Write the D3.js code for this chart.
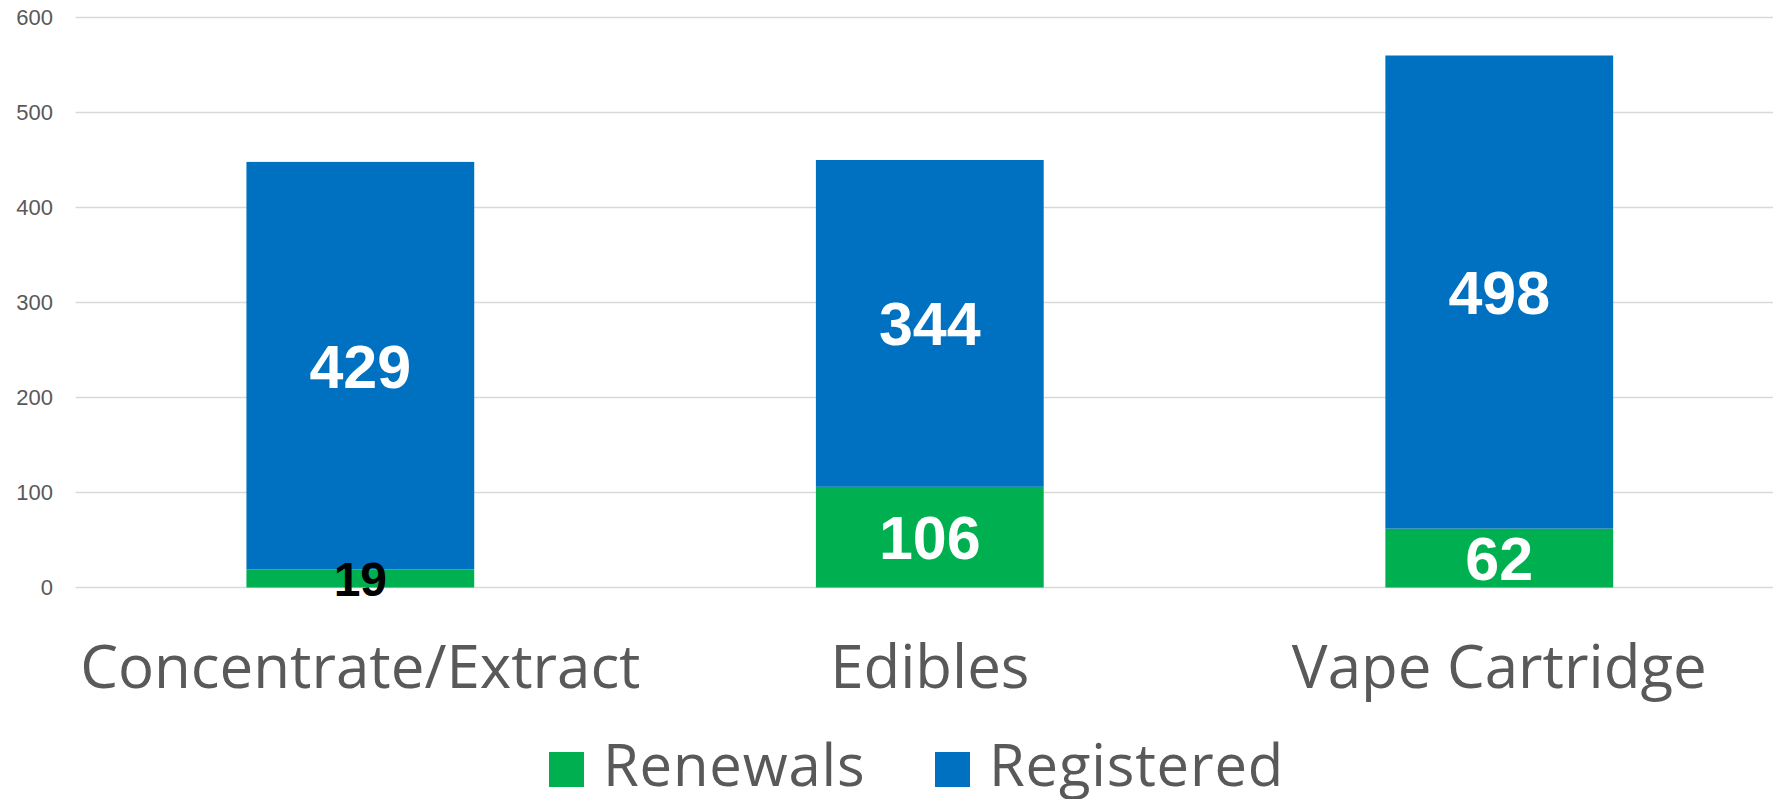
<!DOCTYPE html>
<html>
<head>
<meta charset="utf-8">
<script src="https://cdn.jsdelivr.net/npm/d3@7"></script>
<style>
  html, body { margin: 0; padding: 0; background: #fff; }
  svg { display: block; }
</style>
</head>
<body>
<div id="chart"></div>
<script>
// data
const categories = ["Concentrate/Extract", "Edibles", "Vape Cartridge"];
const seriesNames = ["Renewals", "Registered"];
const renewals = [19, 106, 62];
const registered = [429, 344, 498];
const yTicks = [0, 100, 200, 300, 400, 500, 600];

const seriesColors = { Renewals: "#00B050", Registered: "#0070C0" };

const width = 1773;
const height = 799;
const plot = { left: 75.6, right: 1784, top: 17.5, bottom: 587.5 };

const rows = categories.map((c, i) => ({
  category: c,
  Renewals: renewals[i],
  Registered: registered[i]
}));

const svg = d3.select("#chart").append("svg")
  .attr("width", width)
  .attr("height", height);

const x = d3.scaleBand()
  .domain(categories)
  .range([plot.left, plot.right])
  .paddingInner(0.6)
  .paddingOuter(0.3);

const y = d3.scaleLinear()
  .domain([0, 600])
  .range([plot.bottom, plot.top]);

// gridlines
svg.append("g")
  .selectAll("line")
  .data(yTicks)
  .join("line")
  .attr("x1", plot.left)
  .attr("x2", width)
  .attr("y1", d => y(d))
  .attr("y2", d => y(d))
  .attr("stroke", "#d9d9d9")
  .attr("stroke-width", 1.5);

// y axis labels
const yAxis = d3.axisLeft(y).tickValues(yTicks).tickSize(0).tickPadding(0);
svg.append("g")
  .attr("transform", "translate(53,0)")
  .call(yAxis)
  .call(g => g.select(".domain").remove())
  .call(g => g.selectAll("text")
    .attr("fill", "#595959")
    .attr("font-family", "'Liberation Sans', Arial, sans-serif")
    .attr("font-size", 22));

// stacked bars
const stacked = d3.stack().keys(seriesNames)(rows);

const layers = svg.append("g")
  .selectAll("g")
  .data(stacked)
  .join("g")
  .attr("fill", s => seriesColors[s.key]);

layers.selectAll("rect")
  .data(s => s.map(p => ({ key: s.key, p })))
  .join("rect")
  .attr("x", d => x(d.p.data.category))
  .attr("width", x.bandwidth())
  .attr("y", d => y(d.p[1]))
  .attr("height", d => y(d.p[0]) - y(d.p[1]));

// data labels
const labelG = svg.append("g");
stacked.forEach(s => {
  s.forEach(p => {
    const value = p[1] - p[0];
    const segH = y(p[0]) - y(p[1]);
    const small = segH < 40;
    labelG.append("text")
      .attr("x", x(p.data.category) + x.bandwidth() / 2)
      .attr("y", (y(p[0]) + y(p[1])) / 2)
      .attr("dy", "0.36em")
      .attr("text-anchor", "middle")
      .attr("font-family", "'Liberation Sans', Arial, sans-serif")
      .attr("font-weight", "bold")
      .attr("font-size", small ? 48 : 61)
      .attr("fill", small ? "#000" : "#fff")
      .text(value);
  });
});

// category labels
svg.append("g")
  .selectAll("text")
  .data(categories)
  .join("text")
  .attr("x", d => x(d) + x.bandwidth() / 2)
  .attr("y", 688)
  .attr("text-anchor", "middle")
  .attr("font-family", "'Open Sans', sans-serif")
  .attr("font-size", 60)
  .attr("fill", "#595959")
  .text(d => d);

// legend
const legendX = [549, 935];
const legend = svg.append("g")
  .selectAll("g")
  .data(seriesNames)
  .join("g")
  .attr("transform", (d, i) => `translate(${legendX[i]},752)`);

legend.append("rect")
  .attr("width", 35)
  .attr("height", 35)
  .attr("fill", d => seriesColors[d]);

legend.append("text")
  .attr("x", 54)
  .attr("y", 34)
  .attr("font-family", "'Open Sans', sans-serif")
  .attr("font-size", 58)
  .attr("letter-spacing", 0.8)
  .attr("fill", "#595959")
  .text(d => d);
</script>
</body>
</html>
